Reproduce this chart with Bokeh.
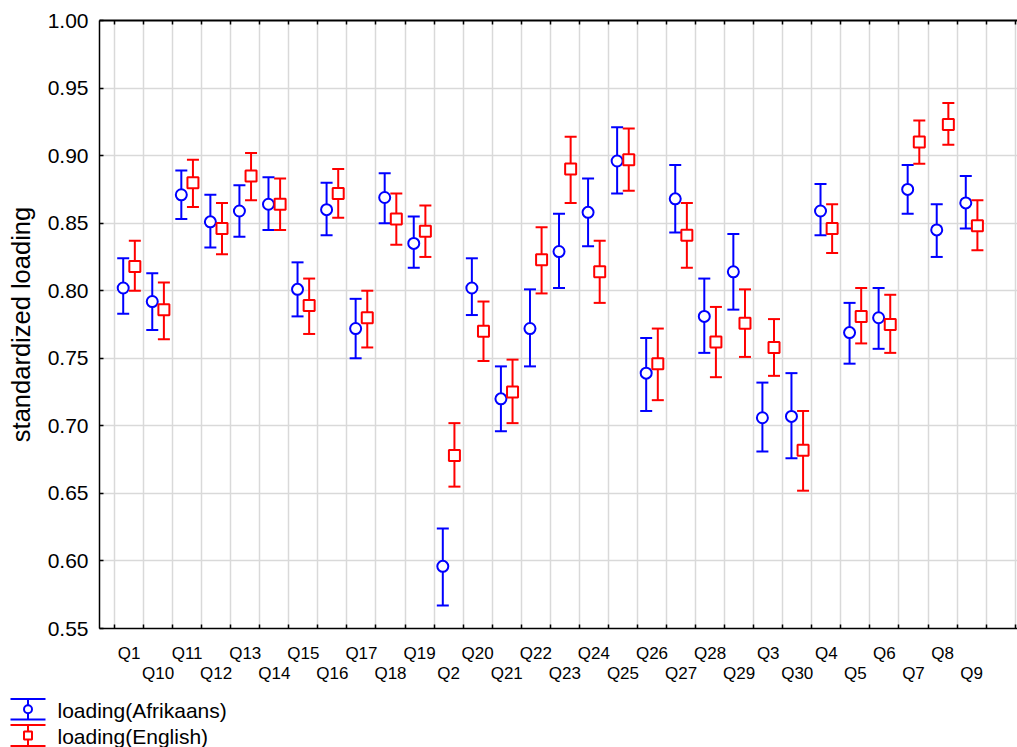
from bokeh.plotting import figure
from bokeh.models import Range1d, FixedTicker, LinearAxis, PrintfTickFormatter, ColumnDataSource
from bokeh.layouts import column
from bokeh.embed import file_html
from bokeh.resources import INLINE
from bokeh.core.properties import value

categories = ["Q1", "Q10", "Q11", "Q12", "Q13", "Q14", "Q15", "Q16", "Q17", "Q18",
              "Q19", "Q2", "Q20", "Q21", "Q22", "Q23", "Q24", "Q25", "Q26", "Q27",
              "Q28", "Q29", "Q3", "Q30", "Q4", "Q5", "Q6", "Q7", "Q8", "Q9"]

afr_mean = [0.802, 0.792, 0.871, 0.851, 0.859, 0.864, 0.801, 0.860, 0.772, 0.869,
            0.835, 0.596, 0.802, 0.720, 0.772, 0.829, 0.858, 0.896, 0.739, 0.868,
            0.781, 0.814, 0.706, 0.707, 0.859, 0.769, 0.780, 0.875, 0.845, 0.865]
afr_low = [0.783, 0.771, 0.853, 0.832, 0.840, 0.845, 0.781, 0.841, 0.750, 0.850,
           0.817, 0.567, 0.782, 0.696, 0.744, 0.802, 0.833, 0.872, 0.711, 0.843,
           0.754, 0.786, 0.681, 0.676, 0.841, 0.746, 0.757, 0.857, 0.825, 0.846]
afr_high = [0.824, 0.813, 0.889, 0.871, 0.878, 0.884, 0.821, 0.880, 0.794, 0.887,
            0.855, 0.624, 0.824, 0.744, 0.801, 0.857, 0.883, 0.921, 0.765, 0.893,
            0.809, 0.842, 0.732, 0.739, 0.879, 0.791, 0.802, 0.893, 0.864, 0.885]

eng_mean = [0.818, 0.786, 0.880, 0.846, 0.885, 0.864, 0.789, 0.872, 0.780, 0.853,
            0.844, 0.678, 0.770, 0.725, 0.823, 0.890, 0.814, 0.897, 0.746, 0.841,
            0.762, 0.776, 0.758, 0.682, 0.846, 0.781, 0.775, 0.910, 0.923, 0.848]
eng_low = [0.800, 0.764, 0.862, 0.827, 0.867, 0.845, 0.768, 0.854, 0.758, 0.834,
           0.825, 0.655, 0.748, 0.702, 0.798, 0.865, 0.791, 0.874, 0.719, 0.817,
           0.736, 0.751, 0.737, 0.652, 0.828, 0.761, 0.754, 0.894, 0.908, 0.830]
eng_high = [0.837, 0.806, 0.897, 0.865, 0.902, 0.883, 0.809, 0.890, 0.800, 0.872,
            0.863, 0.702, 0.792, 0.749, 0.847, 0.914, 0.837, 0.920, 0.772, 0.865,
            0.788, 0.801, 0.779, 0.711, 0.864, 0.802, 0.797, 0.926, 0.939, 0.867]

y_ticks = [0.55, 0.60, 0.65, 0.70, 0.75, 0.80, 0.85, 0.90, 0.95, 1.00]
y_label = "standardized loading"
series_labels = ["loading(Afrikaans)", "loading(English)"]

BLUE = "#0000FF"
RED = "#FF0000"
GRID = "#d9d9d9"
FONT = "Liberation Sans"

n = len(categories)
idx = list(range(n))
boundaries = [i - 0.5 for i in range(n + 2)]
even_idx = idx[0::2]
odd_idx = idx[1::2]

p = figure(width=1017, height=688,
           x_range=Range1d(-1.016, 30.58), y_range=Range1d(0.55, 1.0),
           output_backend="svg", toolbar_location=None,
           min_border_left=99, min_border_right=0, min_border_top=20, min_border_bottom=60)
p.frame_align = False
p.outline_line_color = None
p.background_fill_color = "white"
p.border_fill_color = "white"

# y axis
ya = p.yaxis[0]
ya.ticker = FixedTicker(ticks=y_ticks)
ya.formatter = PrintfTickFormatter(format="%.2f")
ya.major_tick_in = 4
ya.major_tick_out = 0
ya.minor_tick_line_color = None
ya.axis_line_color = "black"
ya.axis_line_width = 1.5
ya.major_tick_line_color = "black"
ya.major_tick_line_width = 1.5
ya.major_label_text_font = FONT
ya.major_label_text_font_size = "21px"
ya.major_label_text_color = "black"
ya.major_label_standoff = 11
ya.axis_label = y_label
ya.axis_label_text_font = FONT
ya.axis_label_text_font_size = "25.5px"
ya.axis_label_text_font_style = "normal"
ya.axis_label_text_color = "black"
ya.axis_label_standoff = 10

p.ygrid.grid_line_color = GRID
p.ygrid.grid_line_width = 1.5
p.xgrid.ticker = FixedTicker(ticks=boundaries)
p.xgrid.grid_line_color = GRID
p.xgrid.grid_line_width = 1.5

# x axis (row 1 labels + boundary ticks)
xa = p.xaxis[0]
xa.ticker = FixedTicker(ticks=even_idx, minor_ticks=boundaries)
xa.major_label_overrides = {i: categories[i] for i in even_idx}
xa.major_tick_in = 0
xa.major_tick_out = 0
xa.minor_tick_in = 4
xa.minor_tick_out = 0
xa.minor_tick_line_color = "black"
xa.minor_tick_line_width = 1.5
xa.axis_line_color = "black"
xa.axis_line_width = 1.5
xa.major_label_text_font = FONT
xa.major_label_text_font_size = "17px"
xa.major_label_text_color = "black"
xa.major_label_standoff = 15

# row 2 labels
xa2 = LinearAxis(ticker=FixedTicker(ticks=odd_idx),
                 major_label_overrides={i: categories[i] for i in odd_idx},
                 axis_line_color=None, major_tick_line_color=None, minor_tick_line_color=None,
                 major_label_text_font=FONT, major_label_text_font_size="17px",
                 major_label_text_color="black", major_label_standoff=-8)
p.add_layout(xa2, "below")

# top axis line with inward ticks (minor ticks only, no labels)
xt = LinearAxis(ticker=FixedTicker(ticks=[], minor_ticks=boundaries),
                major_tick_line_color=None,
                minor_tick_in=4, minor_tick_out=0,
                minor_tick_line_color="black", minor_tick_line_width=1.5,
                axis_line_color="black", axis_line_width=2,
                major_label_standoff=0)
p.add_layout(xt, "above")

offset = 0.2
src_afr = ColumnDataSource(dict(x=[i - offset for i in idx], y=afr_mean, lo=afr_low, hi=afr_high))
src_eng = ColumnDataSource(dict(x=[i + offset for i in idx], y=eng_mean, lo=eng_low, hi=eng_high))

for src, col, mk in [(src_afr, BLUE, "circle"), (src_eng, RED, "square")]:
    p.segment(x0="x", y0="lo", x1="x", y1="hi", source=src, line_color=col, line_width=2)
    p.scatter(x="x", y="hi", marker="dash", size=12, line_color=col, line_width=2, source=src)
    p.scatter(x="x", y="lo", marker="dash", size=12, line_color=col, line_width=2, source=src)
    p.scatter(x="x", y="y", marker=mk, size=11, line_color=col, fill_color="white",
              line_width=2, source=src)

# legend strip (drawn below the chart, in pixel coordinates)
LW, LH = 320, 59
lg = figure(width=LW, height=LH, x_range=Range1d(0, LW), y_range=Range1d(LH, 0),
            output_backend="svg", toolbar_location=None,
            x_axis_location=None, y_axis_location=None, min_border=0)
lg.frame_align = False
lg.outline_line_color = None
lg.grid.visible = False
lg.background_fill_color = "white"
lg.border_fill_color = "white"

rows = [(20.7, 10.3, BLUE, "circle", series_labels[0], 22),
        (47, 10.5, RED, "square", series_labels[1], 48)]
icon_x0, icon_x1, icon_xc, text_x = 10, 45, 27.5, 57
for yc, half, col, mk, lab, ty in rows:
    lsrc = ColumnDataSource(dict(x0=[icon_x0, icon_x0], x1=[icon_x1, icon_x1],
                                 y=[yc - half, yc + half]))
    lg.segment(x0="x0", y0="y", x1="x1", y1="y", source=lsrc, line_color=col, line_width=2)
    lg.segment(x0=[icon_xc], y0=[yc - half], x1=[icon_xc], y1=[yc + half],
               line_color=col, line_width=2)
    lg.scatter(x=[icon_xc], y=[yc], marker=mk, size=8, line_color=col,
               fill_color="white", line_width=2)
    lg.text(x=[text_x], y=[ty], text=[lab], text_font=value(FONT),
            text_font_size="21px", text_baseline="middle", text_align="left",
            text_color="black")

layout = column(p, lg)
open("out.html", "w").write(file_html(layout, INLINE))
